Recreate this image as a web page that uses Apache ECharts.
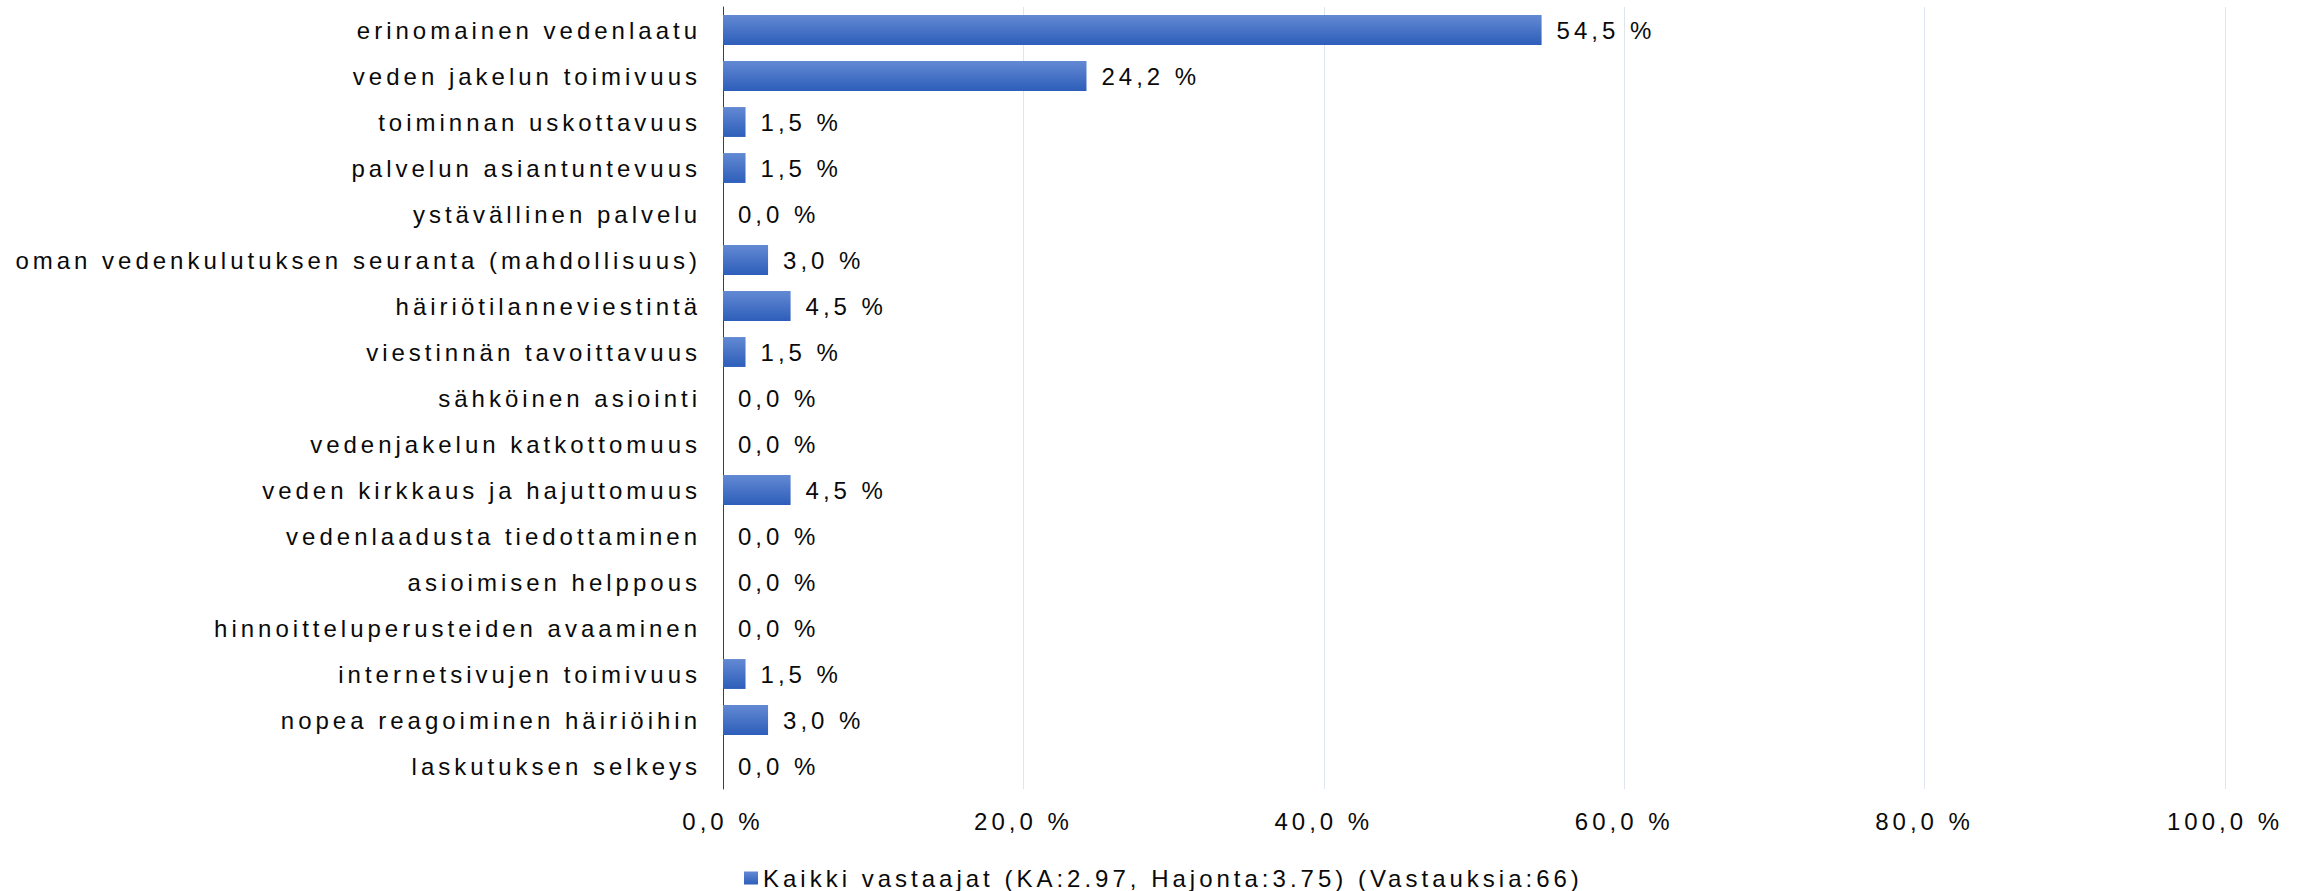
<!DOCTYPE html>
<html>
<head>
<meta charset="utf-8">
<script src="https://cdn.jsdelivr.net/npm/echarts@6/dist/echarts.min.js"></script>
<style>
  html, body { margin: 0; padding: 0; background: #ffffff; }
  #chart { width: 2311px; height: 891px; }
  #chart svg text { letter-spacing: 4px; }
</style>
</head>
<body>
<div id="chart"></div>
<script>
const categories = [
  'erinomainen vedenlaatu',
  'veden jakelun toimivuus',
  'toiminnan uskottavuus',
  'palvelun asiantuntevuus',
  'ystävällinen palvelu',
  'oman vedenkulutuksen seuranta (mahdollisuus)',
  'häiriötilanneviestintä',
  'viestinnän tavoittavuus',
  'sähköinen asiointi',
  'vedenjakelun katkottomuus',
  'veden kirkkaus ja hajuttomuus',
  'vedenlaadusta tiedottaminen',
  'asioimisen helppous',
  'hinnoitteluperusteiden avaaminen',
  'internetsivujen toimivuus',
  'nopea reagoiminen häiriöihin',
  'laskutuksen selkeys'
];
const values = [54.5, 24.2, 1.5, 1.5, 0.0, 3.0, 4.5, 1.5, 0.0, 0.0, 4.5, 0.0, 0.0, 0.0, 1.5, 3.0, 0.0];
const tickLabels = ['0,0 %', '20,0 %', '40,0 %', '60,0 %', '80,0 %', '100,0 %'];
const seriesName = 'Kaikki vastaajat (KA:2.97, Hajonta:3.75) (Vastauksia:66)';

const fmt = v => v.toFixed(1).replace('.', ',') + ' %';
const font = 'Liberation Sans, Arial, sans-serif';
const textColor = '#0a0a0a';
const barGradient = new echarts.graphic.LinearGradient(0, 0, 0, 1, [
  { offset: 0, color: '#6389d3' },
  { offset: 1, color: '#2d5eba' }
]);

const chart = echarts.init(document.getElementById('chart'), null, { renderer: 'svg' });
chart.setOption({
  animation: false,
  textStyle: { fontFamily: font },
  grid: { left: 723, right: 86, top: 7, bottom: 102, containLabel: false },
  legend: {
    data: [seriesName],
    left: 739,
    top: 861,
    itemWidth: 14,
    itemHeight: 13,
    icon: 'rect',
    textStyle: { fontSize: 24, color: textColor, fontFamily: font }
  },
  xAxis: {
    type: 'value',
    min: 0,
    max: 100,
    interval: 20,
    axisLine: { show: false },
    axisTick: { show: false },
    splitLine: { show: true, lineStyle: { color: '#dfe5ef', width: 1 } },
    axisLabel: {
      fontSize: 24,
      color: textColor,
      margin: 20,
      formatter: v => tickLabels[Math.round(v / 20)]
    }
  },
  yAxis: {
    type: 'category',
    data: categories,
    inverse: true,
    axisLine: { show: true, lineStyle: { color: '#404040', width: 1 } },
    axisTick: { show: false },
    axisLabel: { fontSize: 24, color: textColor, margin: 22 }
  },
  series: [{
    name: seriesName,
    type: 'bar',
    data: values,
    barCategoryGap: '35%',
    itemStyle: { color: barGradient },
    label: {
      show: true,
      position: 'right',
      distance: 15,
      fontSize: 24,
      color: textColor,
      formatter: p => fmt(p.value)
    }
  }]
});
</script>
</body>
</html>
